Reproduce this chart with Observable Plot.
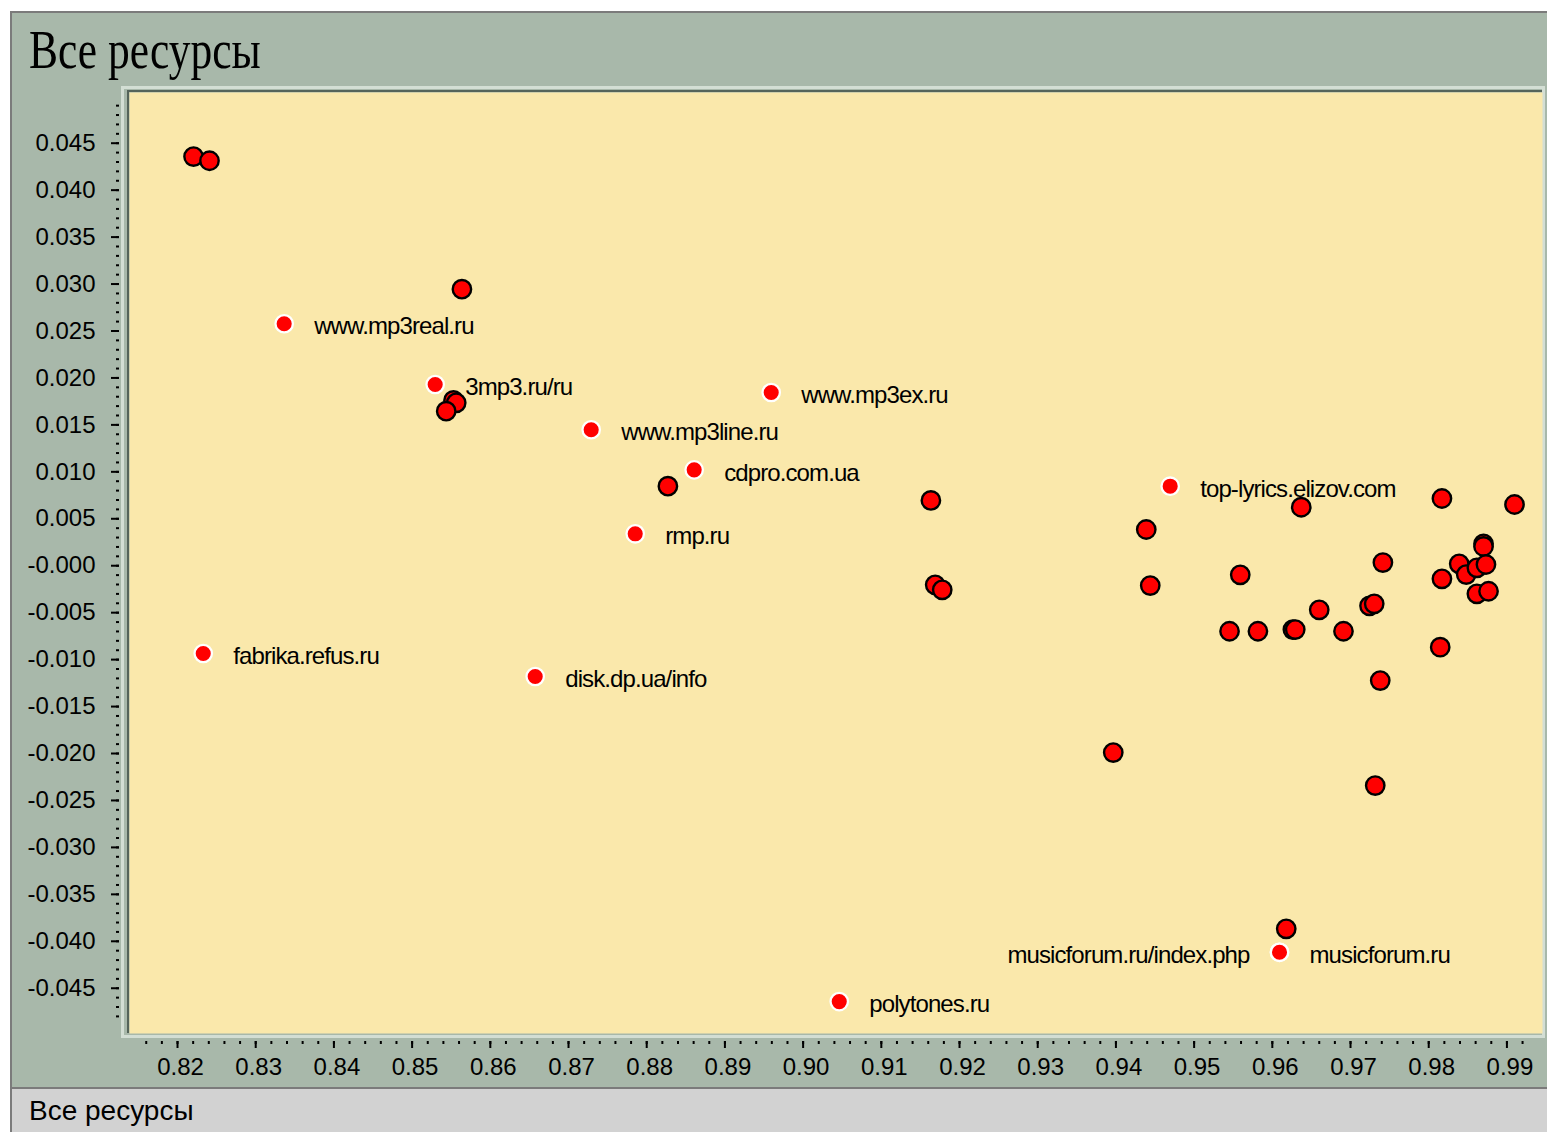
<!DOCTYPE html>
<html><head><meta charset="utf-8">
<script src="https://cdn.jsdelivr.net/npm/d3@7"></script>
<script src="https://cdn.jsdelivr.net/npm/@observablehq/plot@0.6"></script>
<style>
body{margin:0;background:#fff;width:1547px;height:1132px;overflow:hidden;position:relative;font-family:"Liberation Sans",Arial,sans-serif;}
#panel{position:absolute;left:10px;top:11px;width:1537px;height:1078px;background:#a8b8aa;border-top:2px solid #7b7b7b;border-left:2px solid #7b7b7b;box-sizing:border-box;}
#title{position:absolute;left:29px;top:22px;font-family:"Liberation Serif","Times New Roman",serif;font-size:55px;line-height:1;transform:scaleX(0.79);transform-origin:0 0;white-space:nowrap;color:#000;}
#bevel{position:absolute;left:121px;top:86px;width:1424px;height:952px;box-sizing:border-box;border:3px solid #d3ded4;background:#a8b8aa;}
#darkTop{position:absolute;left:127px;top:90px;width:1415px;height:2px;background:#55645a;}
#darkLeft{position:absolute;left:127px;top:90px;width:2px;height:943px;background:#55645a;}
#chart{position:absolute;left:0;top:80px;}
#status{position:absolute;left:10px;top:1087px;width:1537px;height:45px;background:#d2d2d2;border-top:2px solid #7b7b7b;border-left:2px solid #7b7b7b;box-sizing:border-box;}
#statusText{position:absolute;left:29px;top:1097px;font-size:28px;line-height:1;color:#000;white-space:nowrap;}
</style>
</head>
<body>
<div id="panel"></div>
<div id="title">Все ресурсы</div>
<div id="bevel"></div>
<div id="darkTop"></div>
<div id="darkLeft"></div>
<div id="chart"></div>
<div id="status"></div>
<div id="statusText">Все ресурсы</div>
<script>
// ---- data ----
const xTicks = [0.82,0.83,0.84,0.85,0.86,0.87,0.88,0.89,0.90,0.91,0.92,0.93,0.94,0.95,0.96,0.97,0.98,0.99];
const xTickLabels = ["0.82","0.83","0.84","0.85","0.86","0.87","0.88","0.89","0.90","0.91","0.92","0.93","0.94","0.95","0.96","0.97","0.98","0.99"];
const yTicks = [0.045,0.040,0.035,0.030,0.025,0.020,0.015,0.010,0.005,0,-0.005,-0.010,-0.015,-0.020,-0.025,-0.030,-0.035,-0.040,-0.045];
const yTickLabels = ["0.045","0.040","0.035","0.030","0.025","0.020","0.015","0.010","0.005","-0.000","-0.005","-0.010","-0.015","-0.020","-0.025","-0.030","-0.035","-0.040","-0.045"];

// unlabeled resources (black outline)
const ptX = [0.82205,0.82409,0.85637,0.85529,0.85564,0.85436,0.88271,0.91634,0.91689,0.91779,
             0.94388,0.94439,0.93966,0.96178,0.96370,0.95590,0.95453,0.95816,0.96263,0.96293,
             0.96600,0.96910,0.97243,0.97303,0.97414,0.97380,0.97316,0.98169,0.98169,0.98147,
             0.98390,0.98480,0.98616,0.98701,0.98701,0.98732,0.98616,0.98765,0.99097];
const ptY = [0.04358,0.04313,0.02945,0.01760,0.01735,0.01646,0.00847,0.00695,-0.00203,-0.00257,
             0.00386,-0.00211,-0.01990,-0.03867,0.00623,-0.00097,-0.00698,-0.00698,-0.00680,-0.00680,
             -0.00470,-0.00698,-0.00427,-0.00406,0.00034,-0.01223,-0.02341,0.00716,-0.00140,-0.00868,
             0.00020,-0.00094,-0.00022,0.00233,0.00205,0.00013,-0.00299,-0.00272,0.00652];

// labeled resources (white outline, label on the right)
const siteNames = ["www.mp3real.ru","3mp3.ru/ru","www.mp3ex.ru","www.mp3line.ru","cdpro.com.ua","rmp.ru",
                   "fabrika.refus.ru","disk.dp.ua/info","top-lyrics.elizov.com","musicforum.ru","polytones.ru"];
const siteX = [0.83364,0.85295,0.89592,0.87290,0.88607,0.87853,0.82329,0.86574,0.94694,0.96092,0.90462];
const siteY = [0.02577,0.01930,0.01845,0.01448,0.01021,0.00340,-0.00935,-0.01180,0.00847,-0.04117,-0.04642];

// labeled resources with the label on the left
const leftNames = ["musicforum.ru/index.php"];
const leftX = [0.96092];
const leftY = [-0.04117];

// ---- build tables ----
const points = ptX.map((x, i) => ({x, y: ptY[i]}));
const sites = siteNames.map((name, i) => ({name, x: siteX[i], y: siteY[i]}));
const leftSites = leftNames.map((name, i) => ({name, x: leftX[i], y: leftY[i]}));
const xLab = new Map(xTicks.map((t, i) => [t, xTickLabels[i]]));
const yLab = new Map(yTicks.map((t, i) => [t, yTickLabels[i]]));
const xMinor = d3.range(408, 497).map(i => i * 0.002);
const yMinor = d3.range(-48, 50).map(i => i * 0.001);

const RED = "#ff0000";
const chart = Plot.plot({
  width: 1547,
  height: 1008,
  marginTop: 12,
  marginBottom: 55,
  marginLeft: 129,
  marginRight: 5,
  style: {background: "transparent", fontFamily: "Liberation Sans, Arial, sans-serif", color: "#000"},
  x: {domain: [0.81386, 0.99455], label: null},
  y: {domain: [-0.04982, 0.0504], label: null},
  marks: [
    Plot.frame({fill: "#fae8ab", stroke: null}),
    Plot.axisX(xMinor, {tickSize: 3, tickFormat: () => "", dy: 8, strokeWidth: 2, label: null}),
    Plot.axisX(xTicks, {tickSize: 7, tickFormat: () => "", dy: 8, strokeWidth: 2, label: null}),
    Plot.axisX(xTicks, {tickSize: 0, tickPadding: 16, dy: 8, dx: 3, fontSize: 24, tickFormat: d => xLab.get(d), fill: "#000", label: null}),
    Plot.axisY(yMinor, {tickSize: 3, tickFormat: () => "", dx: -10, strokeWidth: 2, label: null}),
    Plot.axisY(yTicks, {tickSize: 8, tickPadding: 16, dx: -10, strokeWidth: 2, fontSize: 24, tickFormat: d => yLab.get(d), fill: "#000", label: null}),
    Plot.dot(points, {x: "x", y: "y", r: 9.2, fill: RED, stroke: "#000", strokeWidth: 2.4}),
    Plot.dot(leftSites, {x: "x", y: "y", r: 8.7, fill: RED, stroke: "#fff", strokeWidth: 2.3}),
    Plot.dot(sites, {x: "x", y: "y", r: 8.7, fill: RED, stroke: "#fff", strokeWidth: 2.3}),
    Plot.text(sites, {x: "x", y: "y", text: "name", textAnchor: "start", dx: 30, dy: 3, fontSize: 24, fill: "#000"}),
    Plot.text(leftSites, {x: "x", y: "y", text: "name", textAnchor: "end", dx: -30, dy: 3, fontSize: 24, fill: "#000"})
  ]
});
document.getElementById("chart").appendChild(chart);
chart.querySelectorAll("g[aria-label='text'] text").forEach(t => t.setAttribute("letter-spacing", "-0.9px"));
</script>
</body></html>
